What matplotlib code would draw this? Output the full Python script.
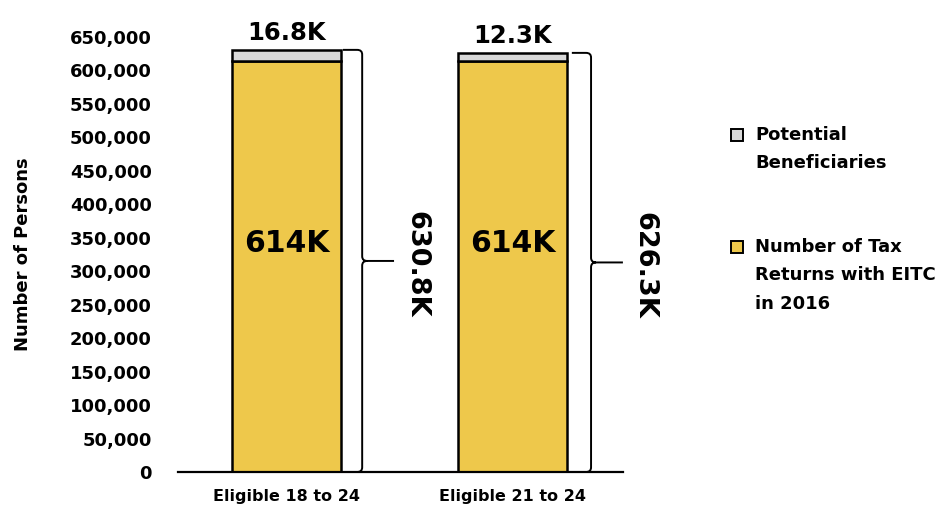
import matplotlib
matplotlib.use("Agg")
import matplotlib.pyplot as plt
from matplotlib.path import Path
from matplotlib.patches import PathPatch, Rectangle

categories = ["Eligible 18 to 24", "Eligible 21 to 24"]
eitc_returns = [614000, 614000]
potential = [16800, 12300]
eitc_labels = ["614K", "614K"]
potential_labels = ["16.8K", "12.3K"]
total_labels = ["630.8K", "626.3K"]
yticks = list(range(0, 650001, 50000))
legend_labels = ["Potential\nBeneficiaries", "Number of Tax\nReturns with EITC\nin 2016"]

plt.rcParams['font.family'] = ['DejaVu Sans']
plt.rcParams['font.weight'] = 'bold'

gold = "#EEC84B"
gray = "#D9D9D9"

W, H = 943, 512
fig = plt.figure(figsize=(W / 100, H / 100), dpi=100)
ax = fig.add_axes([0.1888, 0.0781, 0.472, 0.8496])

x = list(range(len(categories)))
w = 0.485
ax.bar(x, eitc_returns, width=w, color=gold, edgecolor="black", linewidth=1.8, zorder=3)
ax.bar(x, potential, bottom=eitc_returns, width=w, color=gray, edgecolor="black", linewidth=1.8, zorder=3)

ax.set_xlim(-0.48, 0.49 + 1)
ax.set_ylim(0, 650000)
ax.set_yticks(yticks)
ax.set_yticklabels([f"{v:,}" for v in yticks], fontsize=13, fontweight='bold')
ax.set_xticks(x)
ax.set_xticklabels(categories, fontsize=11.5, fontweight='bold')
ax.tick_params(axis='y', length=0, pad=19)
ax.tick_params(axis='x', length=0, pad=12)
ax.set_ylabel("Number of Persons", fontsize=13, fontweight='bold', labelpad=27)
for s in ["top", "right", "left"]:
    ax.spines[s].set_visible(False)
ax.spines["bottom"].set_linewidth(1.6)
ax.spines["bottom"].set_zorder(5)

brace_x = [0.335, 0.348]
tip_x = [0.476, 0.489]
label_x = [0.573, 0.585]
for i in x:
    total = eitc_returns[i] + potential[i]
    bx = i + brace_x[i]
    tx = i + tip_x[i]
    mid = total / 2
    curl = 0.085
    r = 0.022
    cy = 7000
    verts = [
        (bx - curl, total), (bx - r, total), (bx, total), (bx, total - cy),
        (bx, mid + cy), (bx, mid), (bx + r, mid), (tx, mid),
        (bx + r, mid), (bx, mid), (bx, mid - cy),
        (bx, cy), (bx, 0), (bx - r, 0), (bx - curl, 0),
    ]
    codes = [Path.MOVETO, Path.LINETO, Path.CURVE3, Path.CURVE3,
             Path.LINETO, Path.CURVE3, Path.CURVE3, Path.LINETO,
             Path.MOVETO, Path.CURVE3, Path.CURVE3,
             Path.LINETO, Path.CURVE3, Path.CURVE3, Path.LINETO]
    ax.add_patch(PathPatch(Path(verts, codes), facecolor='none', edgecolor='black',
                           linewidth=1.4, clip_on=False, zorder=4))
    ax.text(i, 342000, eitc_labels[i], ha='center', va='center', fontsize=21.5, fontweight='bold', zorder=6)
    ax.text(i, total + 7000, potential_labels[i], ha='center', va='bottom', fontsize=17.5,
            fontweight='bold', clip_on=False)
    ax.text(i + label_x[i], mid - 5000, total_labels[i], ha='center', va='center', rotation=-90,
            fontsize=19.5, fontweight='bold', clip_on=False)

# legend drawn manually (handles aligned with first text line)
leg_colors = [gray, gold]
leg_top = [126, 238]
for c, lbl, top in zip(leg_colors, legend_labels, leg_top):
    fig.patches.append(Rectangle((731 / W, 1 - (top + 15) / H), 12 / W, 12 / H,
                                 transform=fig.transFigure, facecolor=c,
                                 edgecolor='black', linewidth=1.4))
    fig.text(755 / W, 1 - top / H, lbl, ha='left', va='top', fontsize=13,
             fontweight='bold', linespacing=1.75)

fig.savefig("out.png", dpi=100)
